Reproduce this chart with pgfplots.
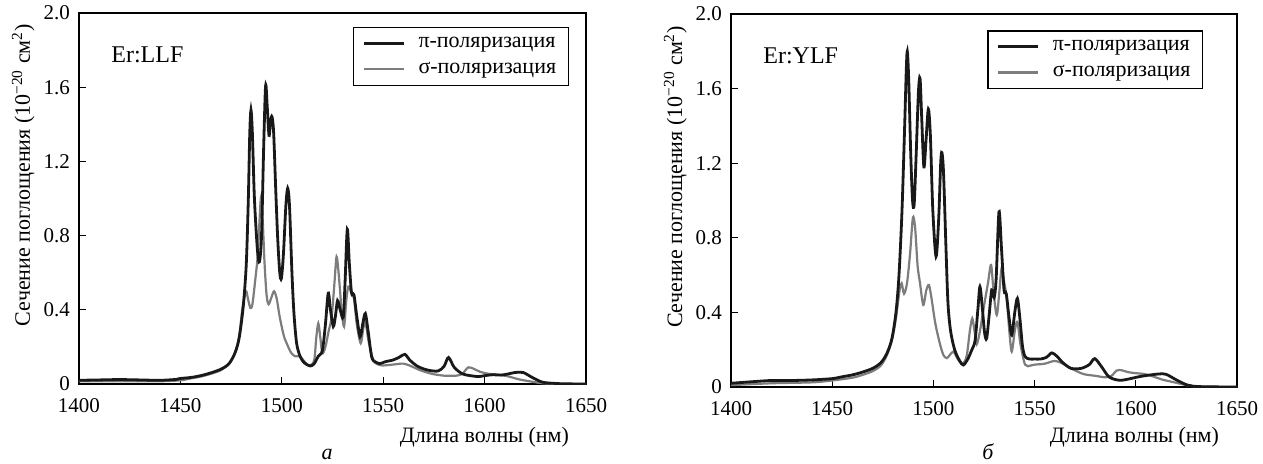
\documentclass[border=0pt]{standalone}
\usepackage{fontspec}
\setmainfont{Liberation Serif}
\usepackage{pgfplots}
\usepackage{pgfplotstable}
\pgfplotsset{compat=1.18}

\definecolor{picol}{RGB}{25,25,25}
\definecolor{sigcol}{RGB}{125,125,125}

% Er:LLF, pi polarisation
\pgfplotstableread{
x y
1400 0.020
1410 0.022
1420 0.024
1430 0.022
1440 0.020
1448 0.025
1450 0.030
1455 0.035
1460 0.045
1465 0.060
1470 0.080
1474 0.110
1477 0.170
1479 0.250
1481 0.420
1482.5 0.650
1483.5 1.000
1484.2 1.350
1484.8 1.477
1485.5 1.350
1486.5 1.000
1488 0.720
1489 0.660
1490 0.800
1491 1.250
1491.8 1.560
1492.2 1.610
1492.8 1.500
1493.7 1.340
1494.5 1.420
1495.2 1.440
1496 1.350
1497 1.050
1498 0.780
1499 0.600
1499.8 0.570
1500.8 0.700
1502 0.960
1502.9 1.055
1503.8 0.960
1505 0.600
1506 0.380
1507.3 0.220
1509 0.150
1511 0.115
1514 0.097
1516 0.110
1518 0.150
1520 0.180
1521.5 0.320
1522.9 0.490
1524 0.400
1525.4 0.310
1526.5 0.370
1527.5 0.450
1528.8 0.400
1530.3 0.360
1531.2 0.550
1532.3 0.834
1533.3 0.650
1534.4 0.490
1535.6 0.480
1536.8 0.380
1538.6 0.255
1540 0.330
1541.2 0.380
1542.5 0.290
1544.3 0.147
1546 0.120
1548.4 0.110
1551 0.120
1555 0.130
1558 0.145
1560.7 0.160
1563 0.130
1567 0.095
1572 0.075
1577 0.070
1580 0.095
1582.2 0.143
1585 0.090
1589 0.055
1593 0.045
1597 0.040
1600 0.045
1604 0.050
1608 0.048
1611.5 0.054
1615 0.062
1619 0.062
1623.4 0.036
1628.5 0.010
1635 0.003
1640 0.001
1650 0.000
}\llfpi

% Er:LLF, sigma polarisation
\pgfplotstableread{
x y
1400 0.015
1420 0.015
1440 0.015
1450 0.020
1455 0.030
1460 0.040
1465 0.055
1470 0.075
1474 0.110
1477 0.170
1479 0.260
1480.5 0.400
1482.3 0.500
1483.3 0.460
1484.5 0.410
1485.5 0.430
1486.8 0.550
1488.2 0.700
1489 0.880
1489.8 1.010
1490.6 0.880
1491.5 0.650
1492.5 0.480
1493.5 0.430
1495 0.470
1496.2 0.500
1497.5 0.460
1499 0.360
1501 0.260
1502.4 0.220
1504.5 0.170
1506.5 0.150
1508.5 0.150
1510.5 0.130
1512.5 0.105
1514 0.100
1516 0.130
1517 0.250
1518 0.327
1519 0.250
1520 0.165
1521.5 0.200
1523 0.280
1524.6 0.363
1526 0.550
1527 0.686
1528 0.600
1529.5 0.400
1530.7 0.310
1531.8 0.450
1532.8 0.525
1534 0.500
1535.6 0.460
1537 0.320
1538.9 0.220
1540.2 0.300
1541.3 0.330
1542.8 0.230
1545.1 0.130
1547.5 0.105
1550 0.100
1555 0.105
1560 0.110
1564 0.095
1568 0.075
1574 0.055
1580 0.045
1586 0.045
1589 0.055
1592 0.090
1595 0.080
1598 0.065
1602 0.055
1607 0.050
1612 0.040
1617 0.025
1622 0.015
1628 0.005
1635 0.001
1650 0.000
}\llfsig

% Er:YLF, pi polarisation
\pgfplotstableread{
x y
1400 0.020
1410 0.028
1420 0.035
1430 0.035
1440 0.038
1450 0.045
1455 0.055
1460 0.065
1465 0.080
1470 0.100
1474 0.130
1477 0.180
1479.5 0.260
1481.5 0.400
1483 0.600
1484.5 0.950
1485.8 1.400
1486.6 1.700
1487.1 1.800
1487.8 1.650
1488.8 1.250
1489.7 1.000
1490.5 0.980
1491.5 1.250
1492.6 1.580
1493.4 1.655
1494.2 1.450
1495.3 1.180
1496.4 1.330
1497.5 1.490
1498.5 1.350
1499.7 0.950
1501.3 0.700
1502.6 0.900
1503.6 1.200
1504.2 1.257
1505 1.150
1506.2 0.750
1507.2 0.450
1508.5 0.300
1510.5 0.200
1513 0.140
1514.8 0.118
1517 0.150
1519 0.200
1520.6 0.250
1522 0.420
1523 0.538
1524.2 0.420
1525.3 0.290
1526.3 0.260
1527.5 0.380
1528.8 0.520
1530 0.480
1531 0.580
1532.4 0.940
1533.6 0.750
1534.9 0.520
1536 0.500
1537.3 0.380
1538.7 0.279
1540.2 0.400
1541.5 0.475
1542.8 0.360
1544 0.220
1545.3 0.163
1547.5 0.150
1550 0.150
1553 0.150
1556 0.160
1558.5 0.183
1561 0.165
1564 0.130
1568 0.100
1573 0.100
1577 0.120
1579.7 0.152
1583 0.110
1586.8 0.054
1592 0.036
1597.4 0.045
1601 0.054
1606 0.063
1611.6 0.070
1615 0.068
1620.4 0.036
1625.7 0.010
1632 0.002
1650 0.000
}\ylfpi

% Er:YLF, sigma polarisation
\pgfplotstableread{
x y
1400 0.010
1420 0.020
1440 0.025
1450 0.035
1460 0.050
1465 0.065
1470 0.085
1474 0.115
1477 0.170
1479.5 0.250
1481.5 0.370
1483.3 0.520
1484.3 0.556
1485.5 0.500
1487 0.560
1488.5 0.720
1489.5 0.870
1490.1 0.913
1491 0.850
1492.2 0.650
1493.4 0.556
1495 0.440
1496.5 0.520
1497.8 0.547
1499 0.480
1500.5 0.370
1501.6 0.306
1503.5 0.220
1505 0.170
1506.6 0.155
1508 0.170
1509.8 0.190
1511.5 0.160
1513 0.135
1514.8 0.127
1516.5 0.170
1518 0.300
1519.2 0.368
1520.3 0.300
1521.4 0.230
1523 0.300
1524.5 0.400
1525.5 0.466
1527 0.560
1528.5 0.654
1529.8 0.500
1531.3 0.386
1532.5 0.500
1533.7 0.636
1535 0.560
1536.2 0.480
1537.5 0.300
1538.7 0.190
1540.2 0.300
1541.5 0.350
1543 0.230
1545.3 0.120
1548 0.115
1550 0.120
1555 0.125
1560 0.140
1564 0.125
1568 0.100
1574 0.070
1580 0.060
1585 0.052
1588 0.060
1590.5 0.088
1593 0.090
1596 0.080
1600 0.074
1604 0.070
1609 0.055
1613 0.040
1617 0.030
1621 0.020
1626 0.008
1632 0.002
1650 0.000
}\ylfsig

\pgfplotsset{
  spec/.style={
    scale only axis,
    xmin=1400, xmax=1650, ymin=0, ymax=2,
    xtick={1400,1450,1500,1550,1600,1650},
    ytick={0,0.4,0.8,1.2,1.6,2.0},
    yticklabels={0,0.4,0.8,1.2,1.6,2.0},
    /pgf/number format/1000 sep={},
    /pgf/number format/assume math mode=true,
    tick align=inside, xtick pos=bottom, ytick pos=left,
    major tick length=3.5pt,
    axis line style={line width=0.8pt, black},
    tick style={line width=0.6pt, black},
    ticklabel style={font=\fontsize{10.5}{12}\selectfont},
    xticklabel style={yshift=-3.5pt},
    yticklabel style={xshift=-1pt},
    label style={font=\fontsize{11}{13}\selectfont},
    ylabel={Сечение поглощения (10\textsuperscript{−20} см\textsuperscript{2})},
    xlabel={Длина волны (нм)},
    legend cell align=left,
    legend image code/.code={\draw[#1] (0pt,0pt) -- (20pt,0pt);},
    legend style={anchor=north east, draw=black, line width=0.6pt,
      font=\fontsize{11}{13}\selectfont,
      inner xsep=4.5pt, inner ysep=3pt, row sep=3pt,
      nodes={inner sep=1.5pt},
      /tikz/every odd column/.style={column sep=5pt}},
  },
  pistyle/.style={picol, line width=1.4pt, smooth, tension=0.5, no marks},
  sigstyle/.style={sigcol, line width=1.1pt, smooth, tension=0.5, no marks},
}

\begin{document}
\begin{tikzpicture}
\begin{axis}[spec,
  at={(39.5pt,39.5pt)}, anchor=south west,
  width=253.5pt, height=185.5pt,
  xlabel style={at={(axis description cs:1,0)}, anchor=east, xshift=-5pt, yshift=-26.5pt},
  ylabel style={at={(axis description cs:-0.11,0.563)}, anchor=center},
  legend style={at={(0.966,0.962)}},
]
\addlegendimage{pistyle}
\addlegendentry{π-поляризация}
\addlegendimage{sigstyle}
\addlegendentry{σ-поляризация}
\addplot[sigstyle, forget plot] table[x=x, y=y] {\llfsig};
\addplot[pistyle, forget plot] table[x=x, y=y] {\llfpi};
\node[anchor=west, font=\fontsize{12}{14}\selectfont] at (axis description cs:0.05,0.887) {Er:LLF};
\end{axis}

\begin{axis}[spec,
  at={(365.5pt,38pt)}, anchor=south west,
  width=253pt, height=186.5pt,
  xlabel style={at={(axis description cs:1,0)}, anchor=east, xshift=-5.5pt, yshift=-25pt},
  ylabel style={at={(axis description cs:-0.11,0.563)}, anchor=center},
  legend style={at={(0.933,0.956)}},
]
\addlegendimage{pistyle}
\addlegendentry{π-поляризация}
\addlegendimage{sigstyle}
\addlegendentry{σ-поляризация}
\addplot[sigstyle, forget plot] table[x=x, y=y] {\ylfsig};
\addplot[pistyle, forget plot] table[x=x, y=y] {\ylfpi};
\node[anchor=west, font=\fontsize{12}{14}\selectfont] at (axis description cs:0.05,0.887) {Er:YLF};
\end{axis}

\node[font=\itshape\fontsize{11}{13}\selectfont] at (163.5pt,4.5pt) {а};
\node[font=\itshape\fontsize{11}{13}\selectfont] at (494pt,5.5pt) {б};

\pgfresetboundingbox
\path[use as bounding box] (0pt,0pt) rectangle (631.5pt,231.5pt);
\end{tikzpicture}
\end{document}
